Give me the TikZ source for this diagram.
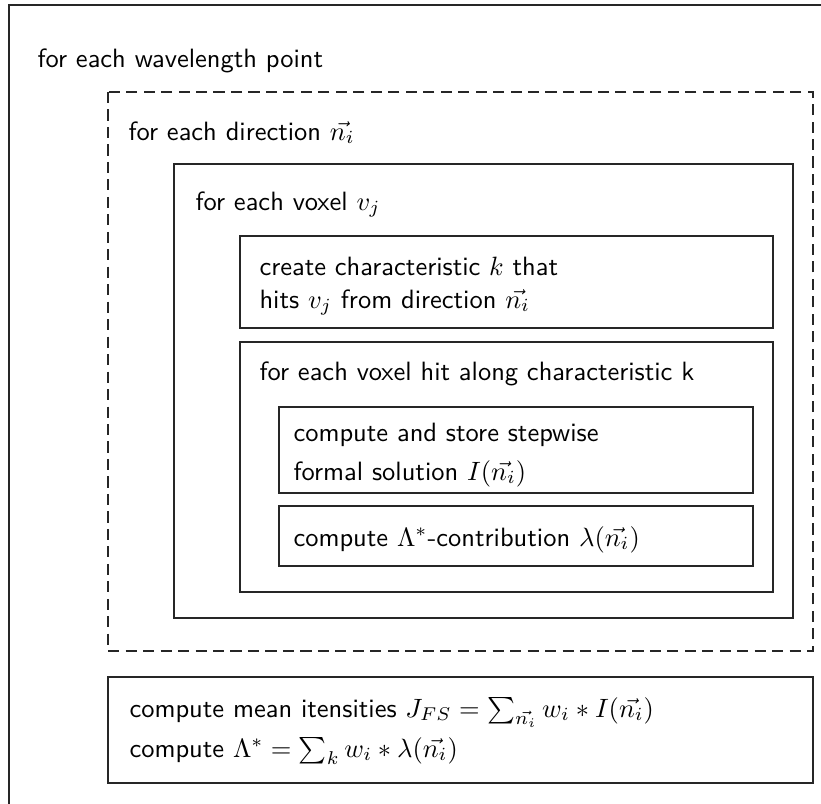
\documentclass[tikz,border=0pt]{standalone}
\begin{document}
\begin{tikzpicture}[x=0.3777pt,y=-0.3777pt,
  box/.style={draw=black!85,line width=0.5pt},
  dbox/.style={draw=black!85,line width=0.5pt,dash pattern=on 4.2pt off 2.4pt},
  txt/.style={anchor=base west,inner sep=0pt,font=\sffamily}]
\useasboundingbox (0,0) rectangle (821,803);
\clip (0,0) rectangle (821,803);
% boxes
\draw[box] (9,5) rectangle (840,820);
\draw[dbox] (108,92) rectangle (813,651);
\draw[box] (174,164) rectangle (793,618);
\draw[box] (240,236) rectangle (773,328);
\draw[box] (240,342) rectangle (773,592);
\draw[box] (279,407) rectangle (753,493);
\draw[box] (279,506) rectangle (753,566);
\draw[box] (108,677) rectangle (813,783);
% texts
\node[txt] (wl) at (37,68) {for each wavelength point};
\node[txt] (dir) at (128,140) {for each direction $\vec{n_i}$};
\node[txt] (vox) at (195,210) {for each voxel $v_j$};
\node[txt] (cr1) at (259,275) {create characteristic $k$ that};
\node[txt] (cr2) at (259,308) {hits $v_j$ from direction $\vec{n_i}$};
\node[txt] (hit) at (259,380) {for each voxel hit along characteristic k};
\node[txt] (fs1) at (293,441) {compute and store stepwise};
\node[txt] (fs2) at (293,480) {formal solution $I(\vec{n_i})$};
\node[txt] (lam) at (293,546) {compute $\Lambda^*$-contribution $\lambda(\vec{n_i})$};
\node[txt] (mj1) at (129,717) {compute mean itensities $J_{FS} = \sum_{\vec{n_i}} w_i * I(\vec{n_i})$};
\node[txt] (mj2) at (129,757) {compute $\Lambda^* = \sum_k w_i * \lambda(\vec{n_i})$};
\end{tikzpicture}
\end{document}
